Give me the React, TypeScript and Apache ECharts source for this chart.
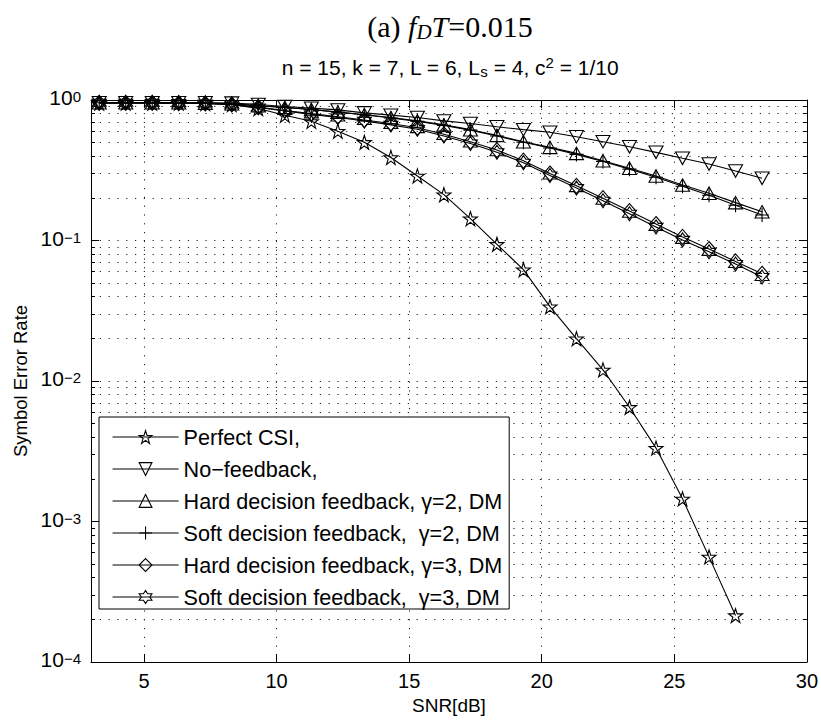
import React, { useEffect, useRef } from 'react';
import * as echarts from 'echarts';

// SNR axis values (dB)
const snrDb = [3.31, 4.31, 5.31, 6.31, 7.31, 8.31, 9.31, 10.31, 11.31, 12.31, 13.31, 14.31, 15.31, 16.31, 17.31, 18.31, 19.31, 20.31, 21.31, 22.31, 23.31, 24.31, 25.31, 26.31, 27.31, 28.31];

// Symbol error rates
const perfectCsi = [0.95, 0.95, 0.95, 0.95, 0.945, 0.93, 0.87, 0.78, 0.705, 0.6, 0.5, 0.39, 0.288, 0.212, 0.143, 0.094, 0.062, 0.0338, 0.02, 0.012, 0.0065, 0.00333, 0.00145, 0.00056, 0.000214];
const noFeedback = [0.955, 0.955, 0.955, 0.955, 0.955, 0.95, 0.93, 0.9, 0.875, 0.85, 0.81, 0.78, 0.75, 0.71, 0.68, 0.645, 0.615, 0.59, 0.548, 0.505, 0.465, 0.424, 0.385, 0.35, 0.312, 0.277];
const hardG2 = [0.955, 0.955, 0.955, 0.955, 0.95, 0.94, 0.91, 0.885, 0.855, 0.82, 0.785, 0.75, 0.71, 0.665, 0.615, 0.56, 0.505, 0.46, 0.417, 0.37, 0.327, 0.288, 0.248, 0.217, 0.186, 0.16];
const softG2 = [0.955, 0.955, 0.955, 0.955, 0.95, 0.94, 0.91, 0.885, 0.855, 0.82, 0.785, 0.745, 0.705, 0.66, 0.61, 0.555, 0.5, 0.455, 0.41, 0.365, 0.322, 0.282, 0.243, 0.21, 0.178, 0.152];
const hardG3 = [0.955, 0.955, 0.955, 0.95, 0.945, 0.93, 0.89, 0.84, 0.8, 0.76, 0.72, 0.68, 0.635, 0.57, 0.505, 0.44, 0.37, 0.3, 0.245, 0.2, 0.162, 0.131, 0.106, 0.087, 0.071, 0.058];
const softG3 = [0.955, 0.955, 0.955, 0.95, 0.945, 0.93, 0.885, 0.835, 0.79, 0.75, 0.71, 0.665, 0.62, 0.555, 0.49, 0.425, 0.358, 0.29, 0.236, 0.192, 0.155, 0.125, 0.101, 0.083, 0.068, 0.055];

const seriesNames = [
  'Perfect CSI,',
  'No\u2212feedback,',
  'Hard decision feedback, \u03b3=2, DM',
  'Soft decision feedback, \u00a0\u03b3=2, DM',
  'Hard decision feedback, \u03b3=3, DM',
  'Soft decision feedback, \u00a0\u03b3=3, DM',
];

// Axis ticks
const xTicks = [5, 10, 15, 20, 25, 30];
const decadeExponents = [-4, -3, -2, -1];
const minorMultipliers = [2, 3, 4, 5, 6, 7, 8, 9];

const SANS = '"Liberation Sans", Arial, Helvetica, sans-serif';
const SERIF = '"Liberation Serif", "DejaVu Serif", serif';

function starPath(points: number, inner: number): string {
  const parts: string[] = [];
  for (let k = 0; k < points * 2; k++) {
    const a = (-90 + (180 / points) * k) * Math.PI / 180;
    const r = k % 2 === 0 ? 1 : inner;
    parts.push(`${k === 0 ? 'M' : 'L'}${(r * Math.cos(a)).toFixed(4)},${(r * Math.sin(a)).toFixed(4)}`);
  }
  return 'path://' + parts.join('') + 'Z';
}

const SYM_PENTAGRAM = starPath(5, 0.382);
const SYM_HEXAGRAM = starPath(6, 0.577);
const SYM_TRI_DOWN = 'path://M-1,-0.866L1,-0.866L0,0.866Z';
const SYM_TRI_UP = 'path://M0,-0.866L1,0.866L-1,0.866Z';
const SYM_PLUS = 'path://M0,-1L0,1M-1,0L1,0';
const SYM_DIAMOND = 'path://M0,-1L1,0L0,1L-1,0Z';

const HOLLOW = { color: 'rgba(255,255,255,0)', borderColor: '#000', borderWidth: 1.1 };

export default function App() {
  const ref = useRef<HTMLDivElement>(null);

  useEffect(() => {
    if (!ref.current) return;
    const chart = echarts.init(ref.current, undefined, { renderer: 'svg' });

    const minorLog: number[] = [];
    decadeExponents.forEach((e) => minorMultipliers.forEach((m) => minorLog.push(e + Math.log10(m))));

    const mk = (name: string, vals: number[], symbol: string, size: number | number[]) => ({
      name,
      type: 'line',
      xAxisIndex: 0,
      yAxisIndex: 0,
      data: vals.map((v, i) => [snrDb[i], v]),
      symbol,
      symbolSize: size,
      showSymbol: true,
      lineStyle: { color: '#000', width: 1.1 },
      itemStyle: HOLLOW,
      emphasis: { disabled: true },
    });

    const dotted = { color: '#222', width: 1, type: [1.2, 7.6] as any };

    const option: any = {
      animation: false,
      backgroundColor: '#fff',
      grid: { left: 91, right: 12, top: 100, bottom: 59, containLabel: false },
      graphic: [
        {
          type: 'text',
          x: 450,
          y: 26,
          style: {
            text: '{n|(a) }{i|f}{sub|D}{i|T}{n|=0.015}',
            align: 'center',
            verticalAlign: 'middle',
            rich: {
              n: { fontFamily: SERIF, fontSize: 30, lineHeight: 32, fill: '#000' },
              i: { fontFamily: SERIF, fontStyle: 'italic', fontSize: 30, lineHeight: 32, fill: '#000' },
              sub: { fontFamily: SERIF, fontStyle: 'italic', fontSize: 21, lineHeight: 21, verticalAlign: 'bottom', fill: '#000' },
            },
          },
        },
        {
          type: 'text',
          x: 450,
          y: 67,
          style: {
            text: '{n|n = 15, k = 7, L = 6, L}{sub|s}{n| = 4, c}{sup|2}{n| = 1/10}',
            align: 'center',
            verticalAlign: 'middle',
            rich: {
              n: { fontFamily: SANS, fontSize: 21, lineHeight: 24, fill: '#000' },
              sub: { fontFamily: SANS, fontSize: 15, lineHeight: 15, verticalAlign: 'bottom', fill: '#000' },
              sup: { fontFamily: SANS, fontSize: 15, lineHeight: 15, verticalAlign: 'top', fill: '#000' },
            },
          },
        },
      ],
      legend: {
        show: true,
        orient: 'vertical',
        left: 99,
        top: 417,
        padding: [9, 7, 1, 13],
        itemGap: 10,
        itemWidth: 66,
        itemHeight: 16,
        selectedMode: false,
        backgroundColor: '#fff',
        borderColor: '#000',
        borderWidth: 1,
        borderRadius: 0,
        data: seriesNames,
        itemStyle: HOLLOW,
        lineStyle: { color: '#000', width: 1.1 },
        textStyle: { fontFamily: SANS, fontSize: 21.6, color: '#000', lineHeight: 22 },
      },
      xAxis: [
        {
          type: 'value',
          min: 3,
          max: 30,
          position: 'bottom',
          name: 'SNR[dB]',
          nameLocation: 'middle',
          nameGap: 33,
          nameTextStyle: { fontFamily: SANS, fontSize: 19, color: '#000' },
          axisLine: { show: true, onZero: false, lineStyle: { color: '#000', width: 1 } },
          axisTick: { show: true, inside: true, length: 8, customValues: xTicks, lineStyle: { color: '#000', width: 1 } },
          axisLabel: { show: true, customValues: xTicks, fontFamily: SANS, fontSize: 20, color: '#000', margin: 9 },
          splitLine: { show: true, lineStyle: dotted },
          minorTick: { show: false },
        },
        {
          type: 'value',
          min: 3,
          max: 30,
          position: 'top',
          axisLine: { show: true, onZero: false, lineStyle: { color: '#000', width: 1 } },
          axisTick: { show: true, inside: true, length: 8, customValues: xTicks, lineStyle: { color: '#000', width: 1 } },
          axisLabel: { show: false },
          splitLine: { show: false },
        },
      ],
      yAxis: [
        {
          type: 'log',
          logBase: 10,
          min: 1e-4,
          max: 1,
          position: 'left',
          name: 'Symbol Error Rate',
          nameLocation: 'middle',
          nameGap: 60,
          nameTextStyle: { fontFamily: SANS, fontSize: 18.5, color: '#000' },
          axisLine: { show: true, onZero: false, lineStyle: { color: '#000', width: 1 } },
          axisTick: { show: true, inside: true, length: 8, lineStyle: { color: '#000', width: 1 } },
          axisLabel: {
            show: true,
            margin: 10,
            formatter: (v: number) => {
              const e = Math.round(Math.log10(v));
              return `{b|10}{s|${e < 0 ? '\u2212' + Math.abs(e) : e}}`;
            },
            rich: {
              b: { fontFamily: SANS, fontSize: 21, lineHeight: 22, color: '#000', padding: [5, 0, 3, 0], verticalAlign: 'bottom' },
              s: { fontFamily: SANS, fontSize: 15, lineHeight: 15, color: '#000', verticalAlign: 'top' },
            },
          },
          splitLine: { show: true, lineStyle: dotted },
        },
        {
          type: 'value',
          min: -4,
          max: 0,
          position: 'left',
          axisLine: { show: false },
          axisTick: { show: true, inside: true, length: 4, customValues: minorLog, lineStyle: { color: '#000', width: 1 } },
          axisLabel: { show: false },
          splitLine: { show: true, lineStyle: dotted },
        },
        {
          type: 'log',
          logBase: 10,
          min: 1e-4,
          max: 1,
          position: 'right',
          axisLine: { show: true, onZero: false, lineStyle: { color: '#000', width: 1 } },
          axisTick: { show: true, inside: true, length: 8, lineStyle: { color: '#000', width: 1 } },
          axisLabel: { show: false },
          splitLine: { show: false },
        },
        {
          type: 'value',
          min: -4,
          max: 0,
          position: 'right',
          axisLine: { show: false },
          axisTick: { show: true, inside: true, length: 4, customValues: minorLog, lineStyle: { color: '#000', width: 1 } },
          axisLabel: { show: false },
          splitLine: { show: false },
        },
      ],
      series: [
        mk(seriesNames[0], perfectCsi, SYM_PENTAGRAM, 14),
        mk(seriesNames[1], noFeedback, SYM_TRI_DOWN, [14, 12.5]),
        mk(seriesNames[2], hardG2, SYM_TRI_UP, [14, 12.5]),
        mk(seriesNames[3], softG2, SYM_PLUS, 14),
        mk(seriesNames[4], hardG3, SYM_DIAMOND, [13, 15]),
        mk(seriesNames[5], softG3, SYM_HEXAGRAM, 14),
      ],
    };

    chart.setOption(option);
    return () => {
      chart.dispose();
    };
  }, []);

  return (
    <div
      ref={ref}
      style={{ position: 'fixed', left: 0, top: 0, width: 821, height: 721, background: '#fff' }}
    />
  );
}
